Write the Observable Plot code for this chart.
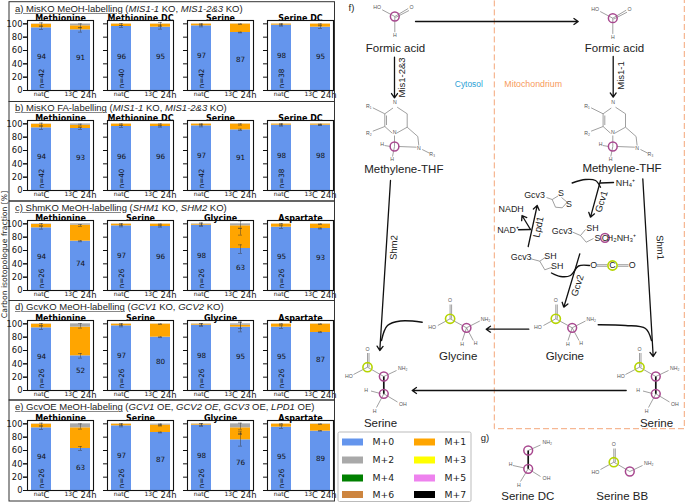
<!DOCTYPE html>
<html><head><meta charset="utf-8">
<script src="https://cdn.jsdelivr.net/npm/d3@7"></script>
<script src="https://cdn.jsdelivr.net/npm/@observablehq/plot@0.6"></script>
<style>
html,body{margin:0;padding:0;background:#fff}
#page{position:relative;width:685px;height:502px;overflow:hidden}
#page svg{position:absolute;left:0;top:0;background:transparent}
.rowtitle{position:absolute;left:15px;font:9.5px "Liberation Sans",sans-serif;color:#222;white-space:nowrap;line-height:11px}
.rowtitle u{text-decoration-color:#888}
</style></head><body><div id="page"></div>
<script>
// ---------- chart values ----------
const rowTitles = [
  '<u>a) MisKO MeOH-labelling</u> (<i>MIS1-1</i> KO, <i>MIS1-2&amp;3</i> KO)',
  '<u>b) MisKO FA-labelling</u> (<i>MIS1-1</i> KO, <i>MIS1-2&amp;3</i> KO)',
  '<u>c) ShmKO MeOH-labelling</u> (<i>SHM1</i> KO, <i>SHM2</i> KO)',
  '<u>d) GcvKO MeOH-labelling</u> (<i>GCV1</i> KO, <i>GCV2</i> KO)',
  '<u>e) GcvOE MeOH-labeling</u> (<i>GCV1</i> OE, <i>GCV2 OE</i>, <i>GCV3</i> OE, <i>LPD1</i> OE)'
];
const rowTops = [8, 107.7, 207.3, 306.7, 406.7];
const panelTitles = [
  ["Methionine","Methionine DC","Serine","Serine DC"],
  ["Methionine","Methionine DC","Serine","Serine DC"],
  ["Methionine","Serine","Glycine","Aspartate"],
  ["Methionine","Serine","Glycine","Aspartate"],
  ["Methionine","Serine","Glycine","Aspartate"]
];
const conditions = ["nat","13C"];
const conditionLabels = {nat:["nat","C"],"13C":["13","C 24h"]};
const nValues = [[42,40,42,38],[42,40,42,38],[26,26,26,26],[26,26,26,26],[26,26,26,26]];
const m0Nat = [[94,96,97,98],[94,96,97,98],[94,97,98,95],[94,97,98,95],[94,97,98,95]];
const m1Nat = [[5.3,3.6,2.6,1.6],[5.3,3.6,2.6,1.6],[5,2.5,1.2,4.6],[5.4,2.5,1.4,4.6],[5.4,2.5,1.4,4.6]];
const m2Nat = [[.4,.2,.2,.2],[.4,.2,.2,.2],[.7,.3,.7,.2],[.4,.3,.5,.2],[.4,.3,.5,.2]];
const m013C = [[91,95,87,95],[93,96,91,98],[74,96,63,93],[52,80,95,87],[63,87,76,89]];
const m113C = [[6,4.5,12.6,4.6],[4.8,3.5,8.6,1.6],[24,3.5,34,6.5],[43,19.5,2.8,12.5],[31,11,18,10.3]];
const m213C = [[2.7,.3,.3,.2],[2,.3,.3,.3],[2,.3,3,.3],[5,.3,2.2,.3],[6,1.6,6,.5]];
const isotopes = ["M+0","M+1","M+2","M+3","M+4","M+5","M+6","M+7"];
const isotopeColors = ["#6495ED","#FFA500","#A9A9A9","#FFFF00","#008000","#EE82EE","#CD853F","#000000"];
// error bars: [row, column, condition, centre, half-width]
const errorBars = [
 [0,0,"nat",94,2.5],[0,0,"nat",99,2.5],[0,0,"13C",91,3.5],[0,0,"13C",97,3],
 [0,1,"nat",96,1.5],[0,1,"nat",99,1.5],[0,1,"13C",95,3],[0,1,"13C",99,3],
 [0,2,"nat",97,1.5],[0,2,"nat",99,1.2],[0,2,"13C",87,.5],[0,2,"13C",99.5,.5],
 [0,3,"nat",98,1.5],[0,3,"nat",99,1],[0,3,"13C",95,2],[0,3,"13C",99,1],
 [1,0,"nat",94,2.5],[1,0,"nat",99,2],[1,0,"13C",93,1.5],[1,0,"13C",98,1.5],
 [1,1,"nat",96,1.5],[1,1,"nat",99,1],[1,1,"13C",96,1],[1,1,"13C",99,1],
 [1,2,"nat",97,1.5],[1,2,"nat",99,1],[1,2,"13C",91,1],[1,2,"13C",99,1],
 [1,3,"nat",98,1.5],[1,3,"nat",99,1],[1,3,"13C",98,.5],[1,3,"13C",99,.5],
 [2,0,"nat",94,2],[2,0,"nat",99,1.5],[2,0,"13C",74,.8],[2,0,"13C",97.5,1.5],
 [2,1,"nat",97,1.5],[2,1,"nat",99,1.5],[2,1,"13C",96,1],[2,1,"13C",99,.7],
 [2,2,"nat",98,2],[2,2,"nat",99.5,2],[2,2,"13C",62,6.5],[2,2,"13C",88,5],[2,2,"13C",99,5.5],
 [2,3,"nat",95,2],[2,3,"nat",99.5,1],[2,3,"13C",93,.7],[2,3,"13C",99.5,.5],
 [3,0,"nat",94,2.5],[3,0,"nat",99,1.5],[3,0,"13C",52,3.5],[3,0,"13C",97,3.5],
 [3,1,"nat",97,1.5],[3,1,"nat",99,1.5],[3,1,"13C",80,.6],[3,1,"13C",99.5,.5],
 [3,2,"nat",98,2],[3,2,"nat",99,1.5],[3,2,"13C",95,7],[3,2,"13C",98,5],
 [3,3,"nat",95,2],[3,3,"nat",99.5,.7],[3,3,"13C",87.5,.6],[3,3,"13C",99.5,.5],
 [4,0,"nat",94,2.5],[4,0,"nat",99,2],[4,0,"13C",63,3],[4,0,"13C",96,4],
 [4,1,"nat",97,1.5],[4,1,"nat",99,1.5],[4,1,"13C",87,.6],[4,1,"13C",97.5,.8],[4,1,"13C",99,.8],
 [4,2,"nat",98,2],[4,2,"nat",99,1.5],[4,2,"13C",76,9.5],[4,2,"13C",86,2],[4,2,"13C",96,5],
 [4,3,"nat",95,2],[4,3,"nat",99.5,.7],[4,3,"13C",89.5,.5],[4,3,"13C",99.5,.4]
];

// ---------- tidy tables ----------
const rows = d3.range(5), cols = d3.range(4);
const stacked = [], panels = [], valueLabels = [];
for (const r of rows) for (const c of cols) {
  panels.push({r, c, title: panelTitles[r][c], n: "n=" + nValues[r][c]});
  [[m0Nat,m1Nat,m2Nat,"nat"],[m013C,m113C,m213C,"13C"]].forEach(([a,b,d,cond]) => {
    stacked.push({r,c,cond,iso:"M+0",v:a[r][c]},{r,c,cond,iso:"M+1",v:b[r][c]},{r,c,cond,iso:"M+2",v:d[r][c]});
    valueLabels.push({r,c,cond,v:a[r][c]});
  });
}
const errs = errorBars.map(([r,c,cond,m,h]) => ({r,c,cond,lo:m-h,hi:m+h}));
const DJ = '"DejaVu Sans",sans-serif';

// ---------- faceted bar panels ----------
const bars = Plot.plot({
  width:685, height:502, marginLeft:27, marginRight:352, marginTop:20, marginBottom:12,
  style:{fontFamily:DJ, fontSize:"8.2px", background:"transparent", color:"#111"},
  fx:{domain:cols, paddingInner:.175, paddingOuter:0, axis:null, label:null},
  fy:{domain:rows, paddingInner:.3, paddingOuter:0, axis:null, label:null},
  x:{domain:conditions, paddingInner:.5, paddingOuter:.085, axis:null, label:null},
  y:{domain:[0,105], axis:null, label:null},
  color:{domain:isotopes, range:isotopeColors},
  marks:[
    Plot.barY(stacked,{fx:"c",fy:"r",x:"cond",y:"v",fill:"iso",order:isotopes}),
    Plot.ruleX(errs,{fx:"c",fy:"r",x:"cond",y1:"lo",y2:"hi",stroke:"#333",strokeWidth:.6,strokeOpacity:.75}),
    Plot.tickY(errs,{fx:"c",fy:"r",x:"cond",y:"lo",stroke:"#333",strokeWidth:.6,insetLeft:8,insetRight:8,strokeOpacity:.75}),
    Plot.tickY(errs,{fx:"c",fy:"r",x:"cond",y:"hi",stroke:"#333",strokeWidth:.6,insetLeft:8,insetRight:8,strokeOpacity:.75}),
    Plot.text(valueLabels,{fx:"c",fy:"r",x:"cond",y:d=>d.v/2,text:"v",dy:-2,fontSize:7.2,fill:"#111"}),
    Plot.text(panels,{fx:"c",fy:"r",x:()=>"nat",y:()=>18,text:"n",rotate:-90,fontSize:7.2,fill:"#111"}),
    Plot.text(panels,{fx:"c",fy:"r",text:"title",frameAnchor:"top",lineAnchor:"bottom",dy:0,fontWeight:"bold",fontSize:8,fill:"#000"}),
    Plot.frame({stroke:"#111",strokeWidth:1.1}),
    Plot.axisY({ticks:[0,20,40,60,80,100],tickSize:4,tickPadding:1,fontSize:8.4,anchor:"left"}),
    Plot.axisY({ticks:[0,20,40,60,80,100],tickSize:4,fill:"none",anchor:"left",facetAnchor:null}),
    Plot.axisX({tickSize:1,tickPadding:1,fontSize:8.4,anchor:"bottom",facetAnchor:null,tickFormat:d=>conditionLabels[d].join("|")})
  ]
});
// raise the isotope prefix of the x tick labels
d3.select(bars).selectAll("text").filter(function(){ return this.textContent.includes("|"); }).each(function(){
  const [sup, rest] = this.textContent.split("|");
  const t = d3.select(this); t.text(null);
  t.append("tspan").attr("font-size",6).attr("dy",-2.5).text(sup);
  t.append("tspan").attr("dy",2.5).text(rest);
});

// ---------- diagram ----------
const FS = '"Liberation Sans",sans-serif';
const shift = (list,dx,dy) => list.map(d => d.length===4 ? [d[0]+dx,d[1]+dy,d[2]+dx,d[3]+dy] : [d[0]+dx,d[1]+dy,d[2]]);
const formicBonds = [[394.3,16,381.7,9.3],[394.3,16,407.7,8],[395,17,408.5,10],[394.3,16,394.3,31.7]];
const formicAtoms = [[376.7,7.3,"HO"],[411,7.3,"O"],[394.3,35,"H"]];
const thfBonds = [[372.3,107.3,384.3,113.3],[384.3,113.3,392.5,107.5],[396.7,106.7,406.7,113.3],[406.7,113.3,406.7,126.7],[406.7,126.7,396,132.7],[391.7,132.7,384.3,126],[384.3,113.3,384.3,126],[386,115,386,124.5],[372.3,130.7,384.3,126],[406.7,126.7,417.3,136],[417.3,136,418.3,145],[394,135,394,146],[398,146,416,146.7],[384,145,390,146],[394,146,392,156],[421.7,149,429,152.7]];
const thfAtoms = [[368.3,105.7,"R₁"],[368.3,133.3,"R₂"],[431.7,154,"R₃"],[394.3,102,"N"],[394,131.7,"N"],[418.3,147.7,"N"],[381.7,144.3,"H"],[391.7,159.3,"H"]];
const glyBonds = [[555.3,304,555.3,318.3],[556.8,304,556.8,318.3],[555.3,318.3,543,325],[555.3,318.3,571.7,327.3],[571.7,327.3,585,320.5],[571.7,327.3,567.5,340],[571.7,327.3,578.5,340]];
const glyAtoms = [[555.3,300,"O"],[537.3,327.3,"HO"],[590.7,318.7,"NH₂"],[567.3,344.3,"H"],[580.7,343.3,"H"]];
const serBonds = [[367,352.5,367,366.7],[368.5,352.5,368.5,366.7],[367,366.7,353,374],[367,366.7,383.3,376],[383.3,376,396,370],[380,393,370.5,390.5],[383.3,393.3,397,401.5],[383.3,393.3,376,407]];
const serAtoms = [[367,348.7,"O"],[348.3,376,"HO"],[402.3,368,"NH₂"],[365.7,390,"H"],[402.3,404,"OH"],[374,410.7,"H"]];
const serWedge = [[383.3,376,383.3,393.3]];
const dcBonds = [[527.7,450,540,444.5],[527.7,468.3,540,476],[527.7,468.3,520,481],[512.5,465,524,467.5]];
const dcAtoms = [[546.7,442,"NH₂"],[510,464.3,"H"],[546,478,"OH"],[518.3,485,"H"]];
const bbBonds = [[613.3,448,613.3,461.7],[614.8,448,614.8,461.7],[613.3,461.7,600,469],[613.3,461.7,629.3,471],[629.3,471,642,465]];
const bbAtoms = [[613.3,444,"O"],[595,471.7,"HO"],[648.3,463.3,"NH₂"]];
const co2Bonds = [[596.5,264.2,607,264.2],[596.5,265.8,607,265.8],[617,264.2,628,264.2],[617,265.8,628,265.8]];
const ringBonds = [[546,197,551.7,199],[551.7,199,557.5,195.5],[561,197,566.7,201.7],[566.7,201.7,561.7,207.3],[561.7,207.3,555,206.7],[555,206.7,551.7,199],
  [572.3,231.7,580,235],[580,235,585,229],[580,235,585.7,241.7],[585.7,241.7,593,238],
  [530.3,258.3,539.3,260.7],[539.3,260.7,544.3,257.3],[539.3,260.7,544.3,269.3],[544.3,269.3,551.7,266.7]];
const bondList = [...formicBonds,...shift(formicBonds,218,1.7),...thfBonds,...shift(thfBonds,218.3,0),...glyBonds,...shift(glyBonds,-105.7,0),...serBonds,...shift(serBonds,272,0),...dcBonds,...bbBonds,...co2Bonds,...ringBonds].map(([x1,y1,x2,y2])=>({x1,y1,x2,y2}));
const wedgeList = [...serWedge,...shift(serWedge,272,0),[527.7,450,527.7,468.3]].map(([x1,y1,x2,y2])=>({x1,y1,x2,y2}));
const atomList = [...formicAtoms,...shift(formicAtoms,218,1.7),...thfAtoms,...shift(thfAtoms,218.3,0),...glyAtoms,...shift(glyAtoms,-105.7,0),...serAtoms,...shift(serAtoms,272,0),...dcAtoms,...bbAtoms].map(([x,y,t])=>({x,y,t}));
const purpleRings = [[394.3,16],[612.3,17.7],[394,146],[612.3,146],[604.5,237.3],[571.7,327.3],[466,327.3],[383.3,376],[383.3,393.3],[655.3,376],[655.3,393.3],[527.7,450],[527.7,468.3],[629.3,471]].map(([x,y])=>({x,y}));
const limeRings = [[612,265],[555.3,318.3],[449.6,318.3],[367,366.7],[639,366.7],[613.3,461.7]].map(([x,y])=>({x,y}));
const straightArrows = [[415,21,577.7,21],[394,56.7,394,97.3],[612.7,56,612.7,96.7],[390,180,379.3,350],[642.3,178.3,652.7,356],[528.3,328.7,485.7,328.7],[625.7,390,411.7,390],[600,180,590,216.7],[579.3,253.3,563.3,306.7],[527.7,246,536.7,205],[530,229,521.5,215]].map(([x1,y1,x2,y2])=>({x1,y1,x2,y2}));
const curves = [
  {id:"gly",  pts:[[421.7,321.7],[400,320.5],[387,325],[381,340]]},
  {id:"ser",  pts:[[597.7,324.3],[625,325],[645,328],[651,340]]},
  {id:"gcv1", pts:[[571.7,182.5],[585,179],[595,180],[600,186.7]]},
  {id:"nh4",  pts:[[600,182.5],[613,182]]},
  {id:"nad",  pts:[[518,229.3],[530,229]]},
  {id:"co2",  pts:[[589,265],[578,265.5],[570,275],[560,276],[551,272.5]]}
].flatMap(c => c.pts.map(([x,y]) => ({id:c.id,x,y})));
const sansLabels = [
  [395,48,"Formic acid"],[614,48,"Formic acid"],[403.3,168.5,"Methylene-THF"],[621.5,168,"Methylene-THF"],
  [457.7,356,"Glycine"],[564.3,356,"Glycine"],[380,422.7,"Serine"],[656,422.7,"Serine"],
  [527.3,495.7,"Serine DC"],[621.7,495.7,"Serine BB"]
].map(([x,y,t])=>({x,y,t}));
const enzymeLabels = [
  [401.7,77,"Mis1-2&3",-90],[620.7,75,"Mis1-1",-90],[393.5,247,"Shm2",-88],[659.5,247,"Shm1",88],
  [601,201,"Gcv1",-72],[538,226.5,"Lpd1",-78],[577,285,"Gcv2",-72]
].map(([x,y,t,a])=>({x,y,t,a}));
const reactionLabels = [
  [534,194.3,"Gcv3"],[561.7,230.7,"Gcv3"],[520.7,256.7,"Gcv3"],[592,228,"SH"],[550,255.7,"SH"],[556.7,265.7,"SH"],
  [510.7,208.5,"NADH"],[507.5,229.5,"NAD⁺"],[625,182.7,"NH₄⁺"],[560.5,192.5,"S"],[568.5,203.5,"S"],
  [597,237.3,"S"],[604.5,237.3,"C"],[621,237.3,"H₂NH₃⁺"],[593.3,265,"O"],[612,265,"C"],[631.7,265,"O"]
].map(([x,y,t])=>({x,y,t}));
const boxes = [[1.7,101.5],[101.5,201],[201,300.5],[300.5,400],[400,501]].map(([y1,y2])=>({x1:9,x2:334.5,y1,y2}));
const legendCols = [342,414];
const legendRows = [442,460,478,494.5];
const legendItems = isotopes.map((t,i)=>({t,c:isotopeColors[i],x:legendCols[i%2],y:legendRows[i>>1]}));

const overlay = Plot.plot({
  width:685,height:502,margin:0,
  style:{background:"transparent"},
  x:{domain:[0,685],range:[0,685],axis:null},
  y:{domain:[0,502],range:[0,502],axis:null},
  marks:[
    Plot.rect(boxes,{x1:"x1",x2:"x2",y1:"y1",y2:"y2",stroke:"#333",strokeWidth:1,fill:"none"}),
    Plot.text(["Carbon isotopologue fraction [%]"],{x:()=>4,y:()=>254,text:d=>d,rotate:-90,fontFamily:DJ,fontSize:7.7,fill:"#222"}),
    Plot.rect([{x1:494.3,x2:684.3,y1:-2,y2:428.7}],{x1:"x1",x2:"x2",y1:"y1",y2:"y2",stroke:"#F4A77A",strokeWidth:1,strokeDasharray:"6,3",fill:"none"}),
    Plot.link(bondList,{x1:"x1",y1:"y1",x2:"x2",y2:"y2",stroke:"#777",strokeWidth:.7}),
    Plot.link(wedgeList,{x1:"x1",y1:"y1",x2:"x2",y2:"y2",stroke:"#111",strokeWidth:1.7}),
    Plot.dot(purpleRings,{x:"x",y:"y",r:4.4,stroke:"#A8488F",strokeWidth:1.5,fill:"none"}),
    Plot.dot(limeRings,{x:"x",y:"y",r:4.6,stroke:"#B5D400",strokeWidth:1.6,fill:"none"}),
    Plot.line(curves,{x:"x",y:"y",z:"id",curve:"catmull-rom",stroke:"#111",strokeWidth:1.4}),
    Plot.arrow(straightArrows,{x1:"x1",y1:"y1",x2:"x2",y2:"y2",stroke:"#111",strokeWidth:1.3,headLength:6,headAngle:70}),
    Plot.text(atomList,{x:"x",y:"y",text:"t",fontFamily:FS,fontSize:5.2,fill:"#555"}),
    Plot.text(sansLabels,{x:"x",y:"y",text:"t",fontFamily:FS,fontSize:11.5,fill:"#222"}),
    Plot.text(enzymeLabels,{x:"x",y:"y",text:"t",rotate:"a",fontFamily:FS,fontSize:9.5,fill:"#222"}),
    Plot.text(reactionLabels,{x:"x",y:"y",text:"t",fontFamily:FS,fontSize:8.9,fill:"#222"}),
    Plot.text([{x:468.3,y:83.3,t:"Cytosol"}],{x:"x",y:"y",text:"t",fontFamily:FS,fontSize:8.4,fill:"#2B9FD6"}),
    Plot.text([{x:532.7,y:83.3,t:"Mitochondrium"}],{x:"x",y:"y",text:"t",fontFamily:FS,fontSize:8.8,fill:"#F79A5B"}),
    Plot.text([{x:351,y:7.3,t:"f)"},{x:484.5,y:437.7,t:"g)"}],{x:"x",y:"y",text:"t",fontFamily:FS,fontSize:9.5,fill:"#222"}),
    // legend
    Plot.rect([{x1:338,x2:471,y1:432,y2:501.5}],{x1:"x1",x2:"x2",y1:"y1",y2:"y2",stroke:"#BBB",strokeWidth:1,fill:"none",rx:1.5}),
    Plot.rect(legendItems,{x1:"x",x2:d=>d.x+21,y1:d=>d.y-3.5,y2:d=>d.y+3.5,fill:"c"}),
    Plot.text(legendItems,{x:d=>d.x+30,y:"y",text:"t",textAnchor:"start",fontFamily:DJ,fontSize:9.3,fill:"#222"})
  ]
});

const page = document.getElementById("page");
page.append(bars, overlay);
rowTitles.forEach((html,i)=>{
  const d = document.createElement("div");
  d.className = "rowtitle";
  d.innerHTML = html;
  d.style.top = (rowTops[i]-5.5)+"px";
  page.append(d);
});
</script></body></html>
